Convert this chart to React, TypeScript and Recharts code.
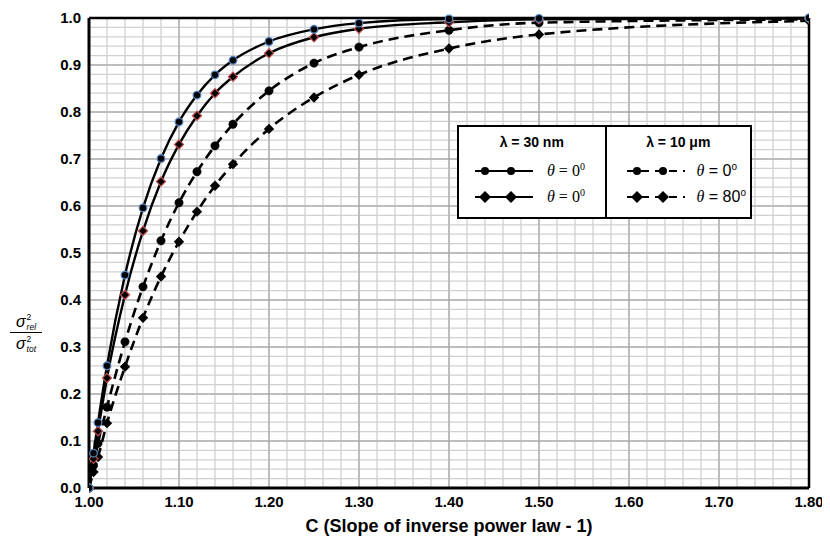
import React from "react";
import { LineChart, Line, XAxis, YAxis, CartesianGrid, ReferenceLine } from "recharts";

const xValues = [1.0, 1.005, 1.01, 1.02, 1.04, 1.06, 1.08, 1.1, 1.12, 1.14, 1.16, 1.2, 1.25, 1.3, 1.4, 1.5, 1.8];
const nm30deg0 = [0, 0.074, 0.139, 0.26, 0.453, 0.596, 0.701, 0.779, 0.836, 0.879, 0.91, 0.95, 0.976, 0.989, 0.998, 0.999, 1.0];
const nm30deg80 = [0, 0.062, 0.121, 0.234, 0.411, 0.547, 0.652, 0.731, 0.792, 0.84, 0.875, 0.925, 0.959, 0.977, 0.991, 0.997, 0.999];
const um10deg0 = [0, 0.048, 0.095, 0.172, 0.311, 0.428, 0.526, 0.607, 0.673, 0.728, 0.774, 0.845, 0.904, 0.938, 0.974, 0.99, 0.997];
const um10deg80 = [0, 0.034, 0.066, 0.138, 0.258, 0.362, 0.45, 0.524, 0.588, 0.643, 0.689, 0.764, 0.831, 0.879, 0.935, 0.965, 0.994];

const xTicks = [1.0, 1.1, 1.2, 1.3, 1.4, 1.5, 1.6, 1.7, 1.8];
const yTicks = [0, 0.1, 0.2, 0.3, 0.4, 0.5, 0.6, 0.7, 0.8, 0.9, 1.0];

const xTitle = "C (Slope of inverse power law - 1)";
const legendHeaders = ["λ = 30 nm", "λ = 10 μm"];
const yTitleSubs = ["rel", "tot"];

const data = xValues.map((x, i) => ({
  x,
  a: nm30deg0[i],
  b: nm30deg80[i],
  c: um10deg0[i],
  d: um10deg80[i],
}));

const minorX: number[] = [];
for (let i = 0; i <= 40; i++) if (i % 5 !== 0) minorX.push(Math.round((1 + i * 0.02) * 1000) / 1000);
const minorY: number[] = [];
for (let i = 0; i <= 50; i++) if (i % 5 !== 0) minorY.push(Math.round(i * 0.02 * 1000) / 1000);

const BlueCircle = (p: any) =>
  p.cx == null ? null : <circle key={p.index} cx={p.cx} cy={p.cy} r={3.8} fill="#000" stroke="#4f81bd" strokeWidth={1.3} />;
const RedDiamond = (p: any) => {
  if (p.cx == null) return null;
  const s = 4.6;
  return (
    <polygon
      key={p.index}
      points={`${p.cx},${p.cy - s} ${p.cx + s},${p.cy} ${p.cx},${p.cy + s} ${p.cx - s},${p.cy}`}
      fill="#000"
      stroke="#c0504d"
      strokeWidth={1.2}
    />
  );
};
const BlackCircle = (p: any) =>
  p.cx == null ? null : <circle key={p.index} cx={p.cx} cy={p.cy} r={4.2} fill="#000" stroke="#000" strokeWidth={0.5} />;
const BlackDiamond = (p: any) => {
  if (p.cx == null) return null;
  const s = 5.2;
  return (
    <polygon
      key={p.index}
      points={`${p.cx},${p.cy - s} ${p.cx + s},${p.cy} ${p.cx},${p.cy + s} ${p.cx - s},${p.cy}`}
      fill="#000"
    />
  );
};

const tickStyle = { fontFamily: "Liberation Sans, Arial, sans-serif", fontWeight: 700, fontSize: 15, fill: "#000" };

const LegendSymbol = ({ dashed, diamond }: { dashed: boolean; diamond: boolean }) => {
  const w = 58;
  const m1 = 10;
  const m2 = 36;
  return (
    <svg width={w} height={14} style={{ display: "block" }}>
      <line x1={0} y1={7} x2={w} y2={7} stroke="#000" strokeWidth={2.2} strokeDasharray={dashed ? "8 6" : undefined} />
      {[m1, m2].map((m) =>
        diamond ? (
          <polygon key={m} points={`${m},${1} ${m + 6},7 ${m},13 ${m - 6},7`} fill="#000" />
        ) : (
          <circle key={m} cx={m} cy={7} r={4} fill="#000" />
        )
      )}
    </svg>
  );
};

const thetaText = (deg: string, sans: boolean) => (
  <span style={{ fontFamily: "Liberation Serif, Times New Roman, serif", fontSize: 16, whiteSpace: "nowrap" }}>
    <i>θ</i>
    <span style={{ fontFamily: sans ? "Liberation Sans, Arial, sans-serif" : undefined }}>
      {" = "}
      {deg}
      <sup style={{ fontSize: 10 }}>{sans ? "o" : "0"}</sup>
    </span>
  </span>
);

const SigmaTerm = ({ sub }: { sub: string }) => (
  <div style={{ display: "flex", alignItems: "center", justifyContent: "center", height: 19 }}>
    <span style={{ fontSize: 16, lineHeight: "16px" }}>σ</span>
    <span
      style={{
        display: "inline-flex",
        flexDirection: "column",
        alignItems: "flex-start",
        fontSize: 8.5,
        lineHeight: "10px",
        marginLeft: 1,
      }}
    >
      <span style={{ fontStyle: "normal" }}>2</span>
      <span>{sub}</span>
    </span>
  </div>
);

export default function App() {
  return (
    <div style={{ position: "relative", width: 822, height: 535 }}>
      <LineChart width={822} height={535} data={data} margin={{ top: 10, right: 21, bottom: 25, left: 0 }}>
        <CartesianGrid stroke="#a6a6a6" strokeWidth={1} />
        {minorX.map((v) => (
          <ReferenceLine key={"mx" + v} x={v} stroke="#d0d0d0" strokeWidth={1.3} />
        ))}
        {minorY.map((v) => (
          <ReferenceLine key={"my" + v} y={v} stroke="#d0d0d0" strokeWidth={1.3} />
        ))}
        {xTicks.slice(1, -1).map((v) => (
          <ReferenceLine key={"Mx" + v} x={v} stroke="#a6a6a6" strokeWidth={1} />
        ))}
        {yTicks.slice(1, -1).map((v) => (
          <ReferenceLine key={"My" + v} y={v} stroke="#a6a6a6" strokeWidth={1} />
        ))}
        <ReferenceLine y={1} stroke="#000" strokeWidth={2.5} />
        <ReferenceLine x={1.8} stroke="#000" strokeWidth={2.5} />
        <XAxis
          dataKey="x"
          type="number"
          domain={[1, 1.8]}
          ticks={xTicks}
          tickFormatter={(v: number) => v.toFixed(2)}
          tick={tickStyle}
          tickLine={false}
          axisLine={{ stroke: "#000", strokeWidth: 3 }}
          height={30}
          interval={0}
          allowDataOverflow
        />
        <YAxis
          type="number"
          domain={[0, 1]}
          ticks={yTicks}
          tickFormatter={(v: number) => v.toFixed(1)}
          tick={tickStyle}
          tickLine={false}
          axisLine={{ stroke: "#000", strokeWidth: 3 }}
          width={81}
          interval={0}
        />
        <Line type="monotone" dataKey="c" stroke="#000" strokeWidth={2.6} strokeDasharray="10 6" dot={BlackCircle} isAnimationActive={false} />
        <Line type="monotone" dataKey="d" stroke="#000" strokeWidth={2.6} strokeDasharray="10 6" dot={BlackDiamond} isAnimationActive={false} />
        <Line type="monotone" dataKey="b" stroke="#000" strokeWidth={2.4} dot={RedDiamond} isAnimationActive={false} />
        <Line type="monotone" dataKey="a" stroke="#000" strokeWidth={2.4} dot={BlueCircle} isAnimationActive={false} />
      </LineChart>

      {/* Y axis title */}
      <div
        style={{
          position: "absolute",
          left: 2,
          top: 304,
          width: 32,
          fontFamily: "Liberation Sans, Arial, sans-serif",
          fontStyle: "italic",
          color: "#000",
        }}
      >
        <div style={{ borderBottom: "1.5px solid #000", paddingBottom: 1 }}>
          <SigmaTerm sub={yTitleSubs[0]} />
        </div>
        <div style={{ paddingTop: 1 }}>
          <SigmaTerm sub={yTitleSubs[1]} />
        </div>
      </div>

      {/* X axis title */}
      <div
        style={{
          position: "absolute",
          left: 81,
          width: 720,
          top: 508,
          textAlign: "center",
          fontFamily: "Liberation Sans, Arial, sans-serif",
          fontWeight: 700,
          fontSize: 18,
          color: "#000",
        }}
      >
        {xTitle}
      </div>

      {/* Legend box */}
      <div
        style={{
          position: "absolute",
          left: 449,
          top: 117,
          width: 295,
          height: 94,
          boxSizing: "border-box",
          border: "2.5px solid #000",
          background: "#fff",
          display: "flex",
          fontFamily: "Liberation Sans, Arial, sans-serif",
        }}
      >
        {[0, 1].map((col) => (
          <div
            key={col}
            style={{
              width: col === 0 ? 146 : 144,
              borderRight: col === 0 ? "2.5px solid #000" : undefined,
              position: "relative",
            }}
          >
            <div style={{ position: "absolute", top: 7, left: 0, right: 0, textAlign: "center", fontWeight: 700, fontSize: 14 }}>
              {legendHeaders[col]}
            </div>
            {[0, 1].map((row) => (
              <div
                key={row}
                style={{ position: "absolute", top: 34 + row * 26, left: col === 0 ? 16 : 20, display: "flex", alignItems: "center", gap: col === 0 ? 14 : 12 }}
              >
                <LegendSymbol dashed={col === 1} diamond={row === 1} />
                {thetaText(row === 1 && col === 1 ? "80" : "0", col === 1)}
              </div>
            ))}
          </div>
        ))}
      </div>
    </div>
  );
}
